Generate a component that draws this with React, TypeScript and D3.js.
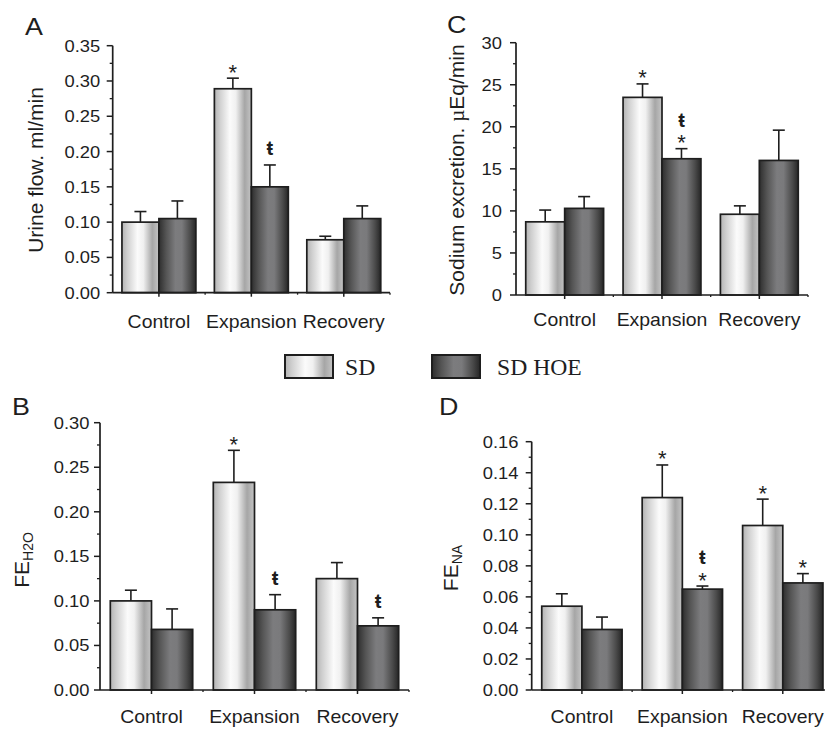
import React from "react";
import * as d3 from "d3";

const categories = ["Control", "Expansion", "Recovery"];
const seriesNames = ["SD", "SD HOE"];

// A - urine flow (ml/min)
const urineSD = [0.1, 0.289, 0.075];
const urineSDErr = [0.015, 0.015, 0.005];
const urineHOE = [0.105, 0.15, 0.105];
const urineHOEErr = [0.025, 0.031, 0.018];
const urineSDMarks = [[], ["*"], []];
const urineHOEMarks = [[], ["ŧ"], []];
const urineTicks = [0, 0.05, 0.1, 0.15, 0.2, 0.25, 0.3, 0.35];

// C - sodium excretion (uEq/min)
const sodiumSD = [8.7, 23.5, 9.6];
const sodiumSDErr = [1.4, 1.6, 1.0];
const sodiumHOE = [10.3, 16.2, 16.0];
const sodiumHOEErr = [1.4, 1.2, 3.6];
const sodiumSDMarks = [[], ["*"], []];
const sodiumHOEMarks = [[], ["*", "ŧ"], []];
const sodiumTicks = [0, 5, 10, 15, 20, 25, 30];

// B - FE H2O
const feWaterSD = [0.1, 0.233, 0.125];
const feWaterSDErr = [0.012, 0.036, 0.018];
const feWaterHOE = [0.068, 0.09, 0.072];
const feWaterHOEErr = [0.023, 0.017, 0.009];
const feWaterSDMarks = [[], ["*"], []];
const feWaterHOEMarks = [[], ["ŧ"], ["ŧ"]];
const feWaterTicks = [0, 0.05, 0.1, 0.15, 0.2, 0.25, 0.3];

// D - FE Na
const feNaSD = [0.054, 0.124, 0.106];
const feNaSDErr = [0.008, 0.021, 0.017];
const feNaHOE = [0.039, 0.065, 0.069];
const feNaHOEErr = [0.008, 0.002, 0.006];
const feNaSDMarks = [[], ["*"], ["*"]];
const feNaHOEMarks = [[], ["*", "ŧ"], ["*"]];
const feNaTicks = [0, 0.02, 0.04, 0.06, 0.08, 0.1, 0.12, 0.14, 0.16];

const SANS = "'Liberation Sans', Arial, sans-serif";
const SERIF = "'Liberation Serif', 'Times New Roman', serif";
const INK = "#1e1e1e";
const SX = 1.08;

const panels = [
  {
    letter: "A", lx: 25, ly: 35,
    sd: urineSD, sdErr: urineSDErr, hoe: urineHOE, hoeErr: urineHOEErr,
    sdMarks: urineSDMarks, hoeMarks: urineHOEMarks,
    ticks: urineTicks, fmt: ".2f",
    x0: 112.7, x1: 390, yTop: 45.7, y0: 292.7, tickGap: 12.5, catDy: 35,
    yLabel: { x: 43, y: 170, main: "Urine flow. ml/min" },
  },
  {
    letter: "C", lx: 447, ly: 33,
    sd: sodiumSD, sdErr: sodiumSDErr, hoe: sodiumHOE, hoeErr: sodiumHOEErr,
    sdMarks: sodiumSDMarks, hoeMarks: sodiumHOEMarks,
    ticks: sodiumTicks, fmt: "d",
    x0: 516, x1: 808, yTop: 42.7, y0: 295, tickGap: 14, catDy: 31,
    yLabel: { x: 464, y: 170, main: "Sodium excretion. ", mu: true },
  },
  {
    letter: "B", lx: 12, ly: 415,
    sd: feWaterSD, sdErr: feWaterSDErr, hoe: feWaterHOE, hoeErr: feWaterHOEErr,
    sdMarks: feWaterSDMarks, hoeMarks: feWaterHOEMarks,
    ticks: feWaterTicks, fmt: ".2f",
    x0: 100, x1: 409, yTop: 422.7, y0: 690, tickGap: 10.5, catDy: 33,
    yLabel: { x: 29, y: 560, main: "FE", sub: "H2O" },
  },
  {
    letter: "D", lx: 439, ly: 415,
    sd: feNaSD, sdErr: feNaSDErr, hoe: feNaHOE, hoeErr: feNaHOEErr,
    sdMarks: feNaSDMarks, hoeMarks: feNaHOEMarks,
    ticks: feNaTicks, fmt: ".2f",
    x0: 531.7, x1: 833, yTop: 441.7, y0: 690, tickGap: 13.2, catDy: 33,
    yLabel: { x: 458, y: 568, main: "FE", sub: "NA" },
  },
];

const T = ({ x, y, size, anchor = "start", children, weight = "normal", family = SANS, sx = SX }: any) => (
  <text
    transform={`translate(${x},${y}) scale(${sx},1)`}
    fontFamily={family}
    fontSize={size}
    fontWeight={weight}
    textAnchor={anchor}
    fill={INK}
  >
    {children}
  </text>
);

const Panel = ({ p }: any) => {
  const x = d3.scaleBand().domain(categories).range([p.x0, p.x1]).padding(0);
  const bw = x.bandwidth();
  const inner = d3.scaleBand().domain(seriesNames).range([0.1 * bw, 0.9 * bw]).padding(0);
  const y = d3
    .scaleLinear()
    .domain([0, p.ticks[p.ticks.length - 1]])
    .range([p.y0, p.yTop]);
  const fmt = d3.format(p.fmt);
  const minor = p.ticks.slice(1).map((t: number, i: number) => (t + p.ticks[i]) / 2);

  const groups = [
    { name: "SD", vals: p.sd, errs: p.sdErr, marks: p.sdMarks, fill: "url(#gradSD)" },
    { name: "SD HOE", vals: p.hoe, errs: p.hoeErr, marks: p.hoeMarks, fill: "url(#gradHOE)" },
  ];

  return (
    <g>
      <T x={p.lx} y={p.ly} size={24} sx={1.12}>{p.letter}</T>

      {/* y label */}
      <text
        transform={`translate(${p.yLabel.x},${p.yLabel.y}) rotate(-90)`}
        fontFamily={SANS}
        fontSize={21}
        textAnchor="middle"
        fill={INK}
      >
        <tspan>{p.yLabel.main}</tspan>
        {p.yLabel.mu && <tspan fontFamily={SERIF}>µ</tspan>}
        {p.yLabel.mu && <tspan>Eq/min</tspan>}
        {p.yLabel.sub && <tspan fontSize={14} dy={4}>{p.yLabel.sub}</tspan>}
      </text>

      {/* bars */}
      {groups.map((g) =>
        categories.map((c, i) => {
          const bx = (x(c) as number) + (inner(g.name) as number);
          const w = inner.bandwidth();
          const top = y(g.vals[i]);
          const et = y(g.vals[i] + g.errs[i]);
          const cx = bx + w / 2;
          let cur = et;
          // stack significance symbols upward from the error bar cap
          const marks = g.marks[i].map((m: string, k: number) => {
            let base;
            if (m === "*") {
              base = cur + 1.5;
              cur -= 12;
            } else {
              base = cur - 10;
              cur -= 24;
            }
            return (
              <T key={k} x={cx} y={base} size={m === "*" ? 22 : 20} anchor="middle" weight={m === "*" ? "normal" : "bold"} sx={1}>
                {m}
              </T>
            );
          });
          return (
            <g key={g.name + c}>
              <line x1={cx} x2={cx} y1={top} y2={et} stroke={INK} strokeWidth={1.6} />
              <line x1={cx - 6} x2={cx + 6} y1={et} y2={et} stroke={INK} strokeWidth={1.6} />
              <rect
                x={bx}
                y={top}
                width={w}
                height={p.y0 - top}
                fill={g.fill}
                stroke={INK}
                strokeWidth={1.7}
              />
              {marks}
            </g>
          );
        })
      )}

      {/* y axis */}
      <line x1={p.x0} x2={p.x0} y1={p.yTop} y2={p.y0} stroke={INK} strokeWidth={1.7} />
      {p.ticks.map((t: number) => (
        <g key={t}>
          <line x1={p.x0 - 6} x2={p.x0} y1={y(t)} y2={y(t)} stroke={INK} strokeWidth={1.5} />
          <T x={p.x0 - p.tickGap} y={y(t) + 6} size={17} anchor="end">
            {fmt(t)}
          </T>
        </g>
      ))}
      {minor.map((t: number) => (
        <line key={"m" + t} x1={p.x0 - 3} x2={p.x0} y1={y(t)} y2={y(t)} stroke={INK} strokeWidth={1.3} />
      ))}

      {/* x axis */}
      <line x1={p.x0} x2={p.x1} y1={p.y0} y2={p.y0} stroke={INK} strokeWidth={1.7} />
      {categories.map((c) => {
        const cx = (x(c) as number) + bw / 2;
        const right = (x(c) as number) + bw;
        return (
          <g key={c}>
            <line x1={cx} x2={cx} y1={p.y0} y2={p.y0 + 4} stroke={INK} strokeWidth={1.5} />
            <line x1={right} x2={right} y1={p.y0} y2={p.y0 + 2} stroke={INK} strokeWidth={1.3} />
            <T x={cx} y={p.y0 + p.catDy} size={18} anchor="middle">
              {c}
            </T>
          </g>
        );
      })}
    </g>
  );
};

const Legend = () => {
  const items = [
    { name: seriesNames[0], fill: "url(#gradSD)", bx: 285, tx: 345 },
    { name: seriesNames[1], fill: "url(#gradHOE)", bx: 432, tx: 497 },
  ];
  return (
    <g>
      {items.map((it) => (
        <g key={it.name}>
          <rect x={it.bx} y={355} width={48} height={23} fill={it.fill} stroke={INK} strokeWidth={2} />
          <T x={it.tx} y={375} size={23} family={SERIF} sx={1.03}>
            {it.name}
          </T>
        </g>
      ))}
    </g>
  );
};

export default function App() {
  return (
    <svg
      width={825}
      height={731}
      style={{ position: "absolute", left: 0, top: 0, background: "#fff" }}
    >
      <defs>
        <linearGradient id="gradSD" x1="0" x2="1" y1="0" y2="0">
          <stop offset="0" stopColor="#b4b4b4" />
          <stop offset="0.15" stopColor="#d0d0d0" />
          <stop offset="0.42" stopColor="#fbfbfb" />
          <stop offset="0.58" stopColor="#f0f0f0" />
          <stop offset="0.82" stopColor="#a6a6a6" />
          <stop offset="1" stopColor="#c4c4c4" />
        </linearGradient>
        <linearGradient id="gradHOE" x1="0" x2="1" y1="0" y2="0">
          <stop offset="0" stopColor="#2e2e2e" />
          <stop offset="0.2" stopColor="#555555" />
          <stop offset="0.45" stopColor="#7c7c7e" />
          <stop offset="0.62" stopColor="#7a7a7c" />
          <stop offset="0.85" stopColor="#4a4a4a" />
          <stop offset="1" stopColor="#262626" />
        </linearGradient>
      </defs>
      <rect width={825} height={731} fill="#fff" />
      {panels.map((p) => (
        <Panel key={p.letter} p={p} />
      ))}
      <Legend />
    </svg>
  );
}
